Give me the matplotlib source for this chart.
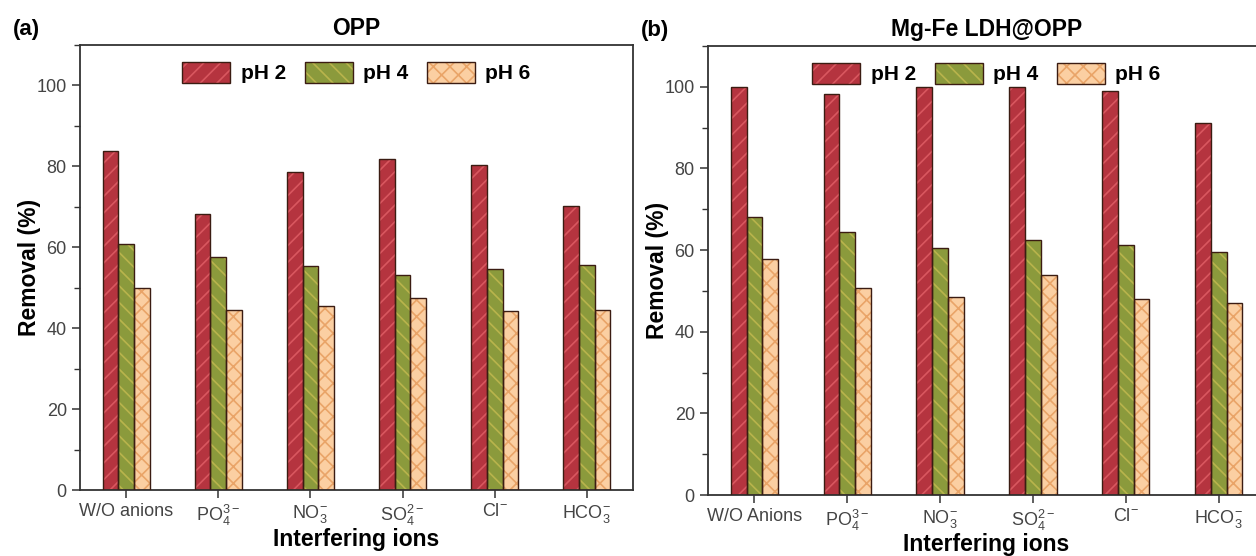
import numpy as np
import matplotlib
matplotlib.use('Agg')
import matplotlib.pyplot as plt
from matplotlib.patches import Patch
from matplotlib.legend_handler import HandlerTuple
from matplotlib.ticker import MultipleLocator

plt.rcParams['font.family'] = ['Liberation Sans', 'DejaVu Sans']
plt.rcParams['hatch.linewidth'] = 1.2

# removal data (%) for each interfering ion at three pH values
ions_a = ['W/O anions', r'PO$\mathregular{_4^{3-}}$', r'NO$\mathregular{_3^{-}}$',
          r'SO$\mathregular{_4^{2-}}$', r'Cl$\mathregular{^{-}}$', r'HCO$\mathregular{_3^{-}}$']
ions_b = ['W/O Anions', r'PO$\mathregular{_4^{3-}}$', r'NO$\mathregular{_3^{-}}$',
          r'SO$\mathregular{_4^{2-}}$', r'Cl$\mathregular{^{-}}$', r'HCO$\mathregular{_3^{-}}$']
ph_labels = ['pH 2', 'pH 4', 'pH 6']

opp_ph2 = [83.7, 68.3, 78.6, 81.7, 80.2, 70.3]
opp_ph4 = [60.7, 57.7, 55.3, 53.2, 54.7, 55.5]
opp_ph6 = [50.0, 44.4, 45.4, 47.4, 44.3, 44.5]

ldh_ph2 = [100.0, 98.3, 100.0, 100.0, 99.0, 91.2]
ldh_ph4 = [68.2, 64.4, 60.6, 62.5, 61.3, 59.5]
ldh_ph6 = [57.7, 50.6, 48.5, 53.8, 48.1, 47.1]

face = ['#b5343f', '#8b9a3c', '#fbcfa2']
hatch_col = ['#d9575f', '#b9b44c', '#e9a468']
hatches = ['//', '\\\\', 'xx']
edge = '#3b1c12'
width = 0.17

fig = plt.figure(figsize=(12.56, 5.56), dpi=100)
ax_a = fig.add_axes([0.0637, 0.1187, 0.4403, 0.8006])
ax_b = fig.add_axes([0.5637, 0.1097, 0.4435, 0.8076])


def draw(ax, labels, series, title, tag):
    x = np.arange(len(labels))
    handles = []
    for i, vals in enumerate(series):
        pos = x + (i - 1) * width
        # hatched fill first, dark outline on top
        ax.bar(pos, vals, width, color=face[i], edgecolor=hatch_col[i],
               hatch=hatches[i], linewidth=0, zorder=2)
        ax.bar(pos, vals, width, fill=False, edgecolor=edge, linewidth=1.0, zorder=3)
        h1 = Patch(facecolor=face[i], edgecolor=hatch_col[i], hatch=hatches[i], linewidth=0)
        h2 = Patch(fill=False, edgecolor=edge, linewidth=1.0)
        handles.append((h1, h2))
    ax.set_xlim(-0.5, len(labels) - 0.5)
    ax.set_ylim(0, 110)
    ax.set_xticks(x)
    ax.set_xticklabels(labels)
    ax.yaxis.set_minor_locator(MultipleLocator(10))
    ax.set_yticks([0, 20, 40, 60, 80, 100])
    ax.tick_params(axis='both', which='major', direction='out', length=6, width=1.1,
                   colors='#333333', labelsize=13, labelcolor='#444444')
    ax.tick_params(axis='y', which='minor', direction='out', length=4, width=1.0, colors='#333333')
    for s in ax.spines.values():
        s.set_linewidth(1.3)
        s.set_color('#333333')
    ax.set_xlabel('Interfering ions', fontsize=16.5, fontweight='bold', labelpad=0)
    ax.set_ylabel('Removal (%)', fontsize=16.5, fontweight='bold', labelpad=-3)
    ax.set_title(title, fontsize=16.5, fontweight='bold', pad=7)
    ax.text(-0.096, 1.034, tag, transform=ax.transAxes, fontsize=16, fontweight='bold',
            ha='center', va='center')
    ax.legend(handles, ph_labels, handler_map={tuple: HandlerTuple(ndivide=1, pad=0)},
              loc='upper center', ncol=3, frameon=False,
              prop={'weight': 'bold', 'size': 15}, handlelength=2.3, handleheight=1.2,
              columnspacing=0.9, handletextpad=0.5, borderaxespad=0.4)


draw(ax_a, ions_a, [opp_ph2, opp_ph4, opp_ph6], 'OPP', '(a)')
draw(ax_b, ions_b, [ldh_ph2, ldh_ph4, ldh_ph6], 'Mg-Fe LDH@OPP', '(b)')

fig.savefig('out.png', dpi=100)
